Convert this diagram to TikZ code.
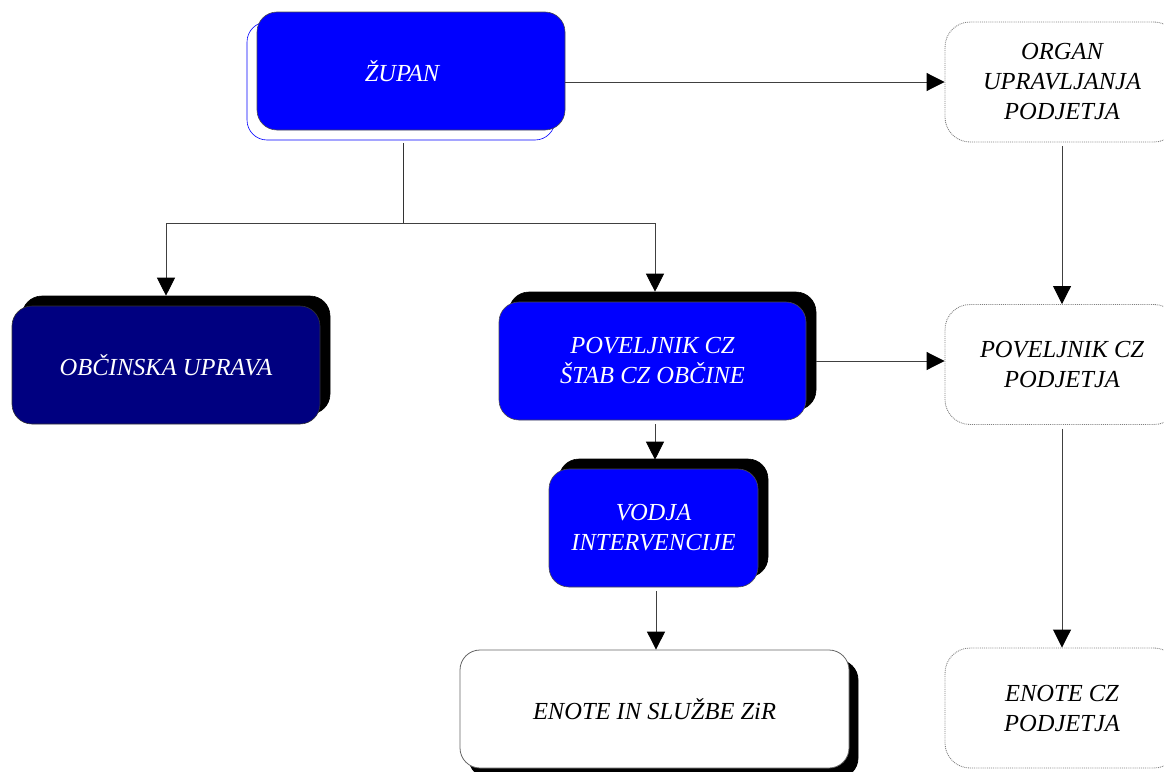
\documentclass[tikz,border=0pt]{standalone}
\usepackage{fontspec}
\setmainfont{Liberation Serif}
\usetikzlibrary{arrows.meta,shadows}
\definecolor{navyb}{RGB}{0,0,128}
\definecolor{pureblue}{RGB}{0,0,255}
\begin{document}
\begin{tikzpicture}[x=1pt,y=-1pt,
  box/.style={rounded corners=20pt, minimum height=118pt, align=center, inner sep=0pt,
              font=\fontsize{24.5}{30}\selectfont\itshape},
  bluebox/.style={box, fill=pureblue, draw=black!70, line width=0.6pt, text=white},
  navybox/.style={box, fill=navyb, draw=black!80, line width=0.6pt, text=white},
  whitebox/.style={box, fill=white, draw=black!60, line width=0.8pt, text=black},
  dotbox/.style={rounded corners=25pt, minimum width=234pt, minimum height=120pt, align=center,
              inner sep=0pt, font=\fontsize{24.5}{30}\selectfont\itshape,
              fill=white, draw=black!50, densely dotted, line width=0.9pt},
  blackshadow/.style={copy shadow={shadow xshift=10pt, shadow yshift=10pt, fill=black, draw=black, opacity=1}},
  conn/.style={draw=black!75, line width=0.9pt, -{Triangle[length=18pt,width=18pt,black]}},
  line/.style={draw=black!80, line width=0.9pt}
]
\useasboundingbox (0,0) rectangle (1164,771);

\node[bluebox, minimum width=308pt,
      copy shadow={shadow xshift=-10pt, shadow yshift=-10pt, fill=white, draw=pureblue, opacity=1}]
      (zupan) at (411,71) {\hspace*{-18pt}\raisebox{-8pt}{ŽUPAN}};
\node[navybox, minimum width=308pt, blackshadow] (obcina) at (166,365) {OBČINSKA UPRAVA};
\node[bluebox, minimum width=307pt, blackshadow] (stab) at (652.5,361) {POVELJNIK CZ\\ŠTAB CZ OBČINE};
\node[bluebox, minimum width=209pt, blackshadow] (vodja) at (653.5,528) {VODJA\\INTERVENCIJE};
\node[whitebox, minimum width=389pt,
      copy shadow={shadow xshift=9pt, shadow yshift=-10pt, fill=black, draw=black, opacity=1}]
      (enote) at (654.5,709) {ENOTE IN SLUŽBE ZiR};
\node[dotbox] (organ) at (1062,82) {ORGAN\\UPRAVLJANJA\\PODJETJA};
\node[dotbox] (povp) at (1062,364.5) {POVELJNIK CZ\\PODJETJA};
\node[dotbox] (enotecz) at (1062,708) {ENOTE CZ\\PODJETJA};

\coordinate (split) at (403,223);

\draw[line] (split |- {(0,143)}) -- (split);
\draw[conn] (split) -| ([yshift=10pt]obcina.north);
\draw[conn] (split) -| ([xshift=2.5pt,yshift=10pt]stab.north);
\draw[conn] (organ.west -| zupan.east) -- (organ.west);
\draw[conn] ([xshift=10pt]stab.east) -- (stab.east -| povp.west);
\draw[conn] ([yshift=-4pt]organ.south) -- (povp.north);
\draw[conn] ([yshift=-4pt]povp.south) -- (enotecz.north);
\draw[conn] ([xshift=2.5pt,yshift=-4pt]stab.south) -- ([xshift=1.5pt,yshift=9pt]vodja.north);
\draw[conn] ([xshift=2.5pt,yshift=-4pt]vodja.south) -- ([xshift=1.5pt]enote.north);
\end{tikzpicture}
\end{document}
